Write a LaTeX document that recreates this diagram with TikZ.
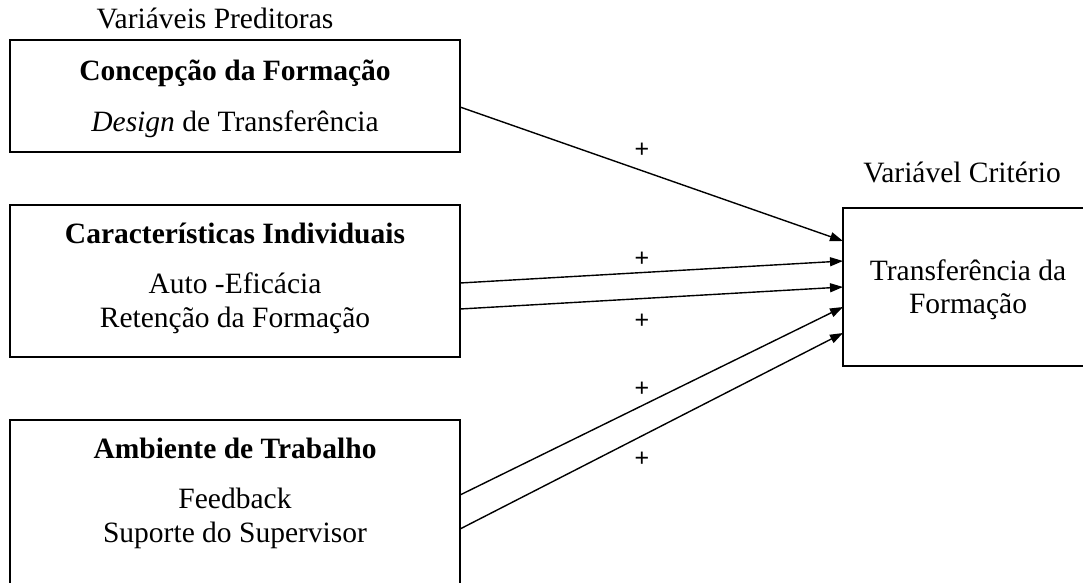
\documentclass[tikz,border=0pt]{standalone}
\usepackage{fontspec}
\setmainfont{Liberation Serif}
\newfontfamily\plusfont{Liberation Sans}
\usetikzlibrary{arrows.meta}
\tikzset{
  box/.style={draw, line width=1.6pt, inner sep=0pt},
  txt/.style={anchor=base, inner sep=0pt, font=\fontsize{29.5}{34}\selectfont},
  ttl/.style={txt, font=\fontsize{29.5}{34}\selectfont\bfseries},
  conn/.style={line width=1.4pt, -{Triangle[length=13pt,width=9pt]}},
  plus/.style={inner sep=0pt, font=\plusfont\fontsize{25}{27}\selectfont}
}
\begin{document}
\begin{tikzpicture}[x=1pt,y=-1pt]
\useasboundingbox (0,0) rectangle (1083,582);
% boxes
\node[box, minimum width=450pt, minimum height=112pt] (b1) at (235,96) {};
\node[box, minimum width=450pt, minimum height=152pt] (b2) at (235,281) {};
\node[box, minimum width=450pt, minimum height=180pt] (b3) at (235,510) {};
\node[box, minimum width=260pt, minimum height=158pt] (b4) at (973,287) {};
% headings
\node[txt] (hp) at (215,28) {Variáveis Preditoras};
\node[txt] (hc) at (962,182) {Variável Critério};
% box texts
\node[ttl] (t1) at (235,80) {Concepção da Formação};
\node[txt] (t1a) at (235,131) {\textit{Design} de Transferência};
\node[ttl] (t2) at (235,243) {Características Individuais};
\node[txt] (t2a) at (235,293) {Auto -Eficácia};
\node[txt] (t2b) at (235,327) {Retenção da Formação};
\node[ttl] (t3) at (235,458) {Ambiente de Trabalho};
\node[txt] (t3a) at (235,508) {Feedback};
\node[txt] (t3b) at (235,542) {Suporte do Supervisor};
\node[txt] (t4a) at (968,280) {Transferência da};
\node[txt] (t4b) at (968,313) {Formação};
% connector end points on box borders
\coordinate (s1) at (460,107);
\coordinate (s2) at (460,283);
\coordinate (s3) at (460,309);
\coordinate (s4) at (460,495);
\coordinate (s5) at (460,529);
\coordinate (e1) at (843,241);
\coordinate (e2) at (843,261);
\coordinate (e3) at (843,287);
\coordinate (e4) at (843,307);
\coordinate (e5) at (843,333);
\draw[conn] (s1) -- (e1);
\draw[conn] (s2) -- (e2);
\draw[conn] (s3) -- (e3);
\draw[conn] (s4) -- (e4);
\draw[conn] (s5) -- (e5);
% signs
\node[plus] (p1) at (642,150) {+};
\node[plus] (p2) at (642,259) {+};
\node[plus] (p3) at (642,321) {+};
\node[plus] (p4) at (642,389) {+};
\node[plus] (p5) at (642,459) {+};
\end{tikzpicture}
\end{document}
